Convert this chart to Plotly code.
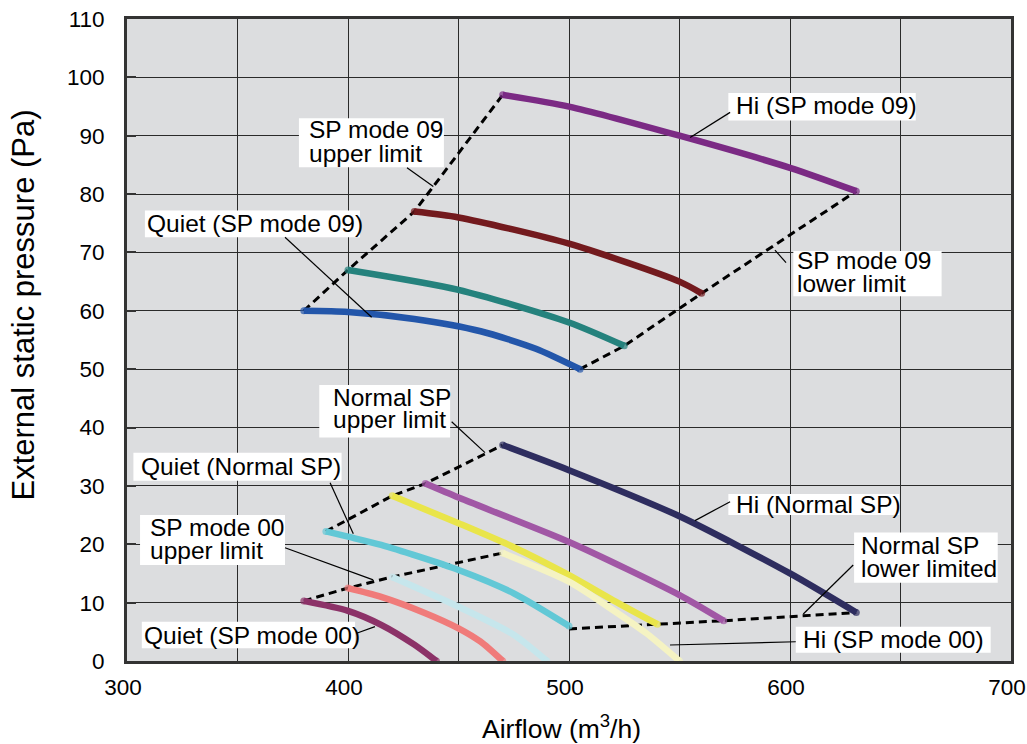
import plotly.graph_objects as go

# ---------------- data ----------------
# SP mode 09 fan curves
hi_sp09_x = [470, 500, 550, 600, 630]
hi_sp09_y = [97, 95, 90, 84.5, 80.5]
m3_sp09_x = [430, 450, 500, 550, 560]
m3_sp09_y = [77, 76, 71.5, 65, 63]
m2_sp09_x = [400, 450, 500, 525]
m2_sp09_y = [67, 63.6, 58, 54]
quiet_sp09_x = [380, 400, 430, 460, 485, 505]
quiet_sp09_y = [60, 59.8, 58.6, 56.5, 53.5, 50]
upper_sp09_x = [380, 400, 430, 470]
upper_sp09_y = [60, 67, 77, 97]
lower_sp09_x = [505, 525, 560, 630]
lower_sp09_y = [50, 54, 63, 80.5]

# Normal SP fan curves
hi_norm_x = [470, 500, 550, 600, 630]
hi_norm_y = [37, 32.7, 24.8, 15.0, 8.3]
m3_norm_x = [435, 450, 500, 550, 570]
m3_norm_y = [30.4, 28.0, 20.4, 11.3, 6.9]
m2_norm_x = [420, 450, 475, 500, 520, 540]
m2_norm_y = [28.3, 23.6, 19.5, 14.7, 10.4, 6.3]
quiet_norm_x = [390, 400, 415, 450, 475, 500]
quiet_norm_y = [22.2, 21.3, 19.9, 15.6, 11.6, 6.0]
upper_norm_x = [390, 420, 435, 470]
upper_norm_y = [22.2, 28.3, 30.4, 37]
lower_norm_x = [500, 540, 570, 630]
lower_norm_y = [5.5, 6.3, 6.9, 8.3]

# SP mode 00 fan curves
hi_sp00_x = [470, 500, 520, 535, 550]
hi_sp00_y = [18.5, 13.6, 8.7, 4.75, 0]
m3_sp00_x = [420, 450, 475, 490]
m3_sp00_y = [14.4, 9.3, 4.5, 0]
m2_sp00_x = [400, 415, 435, 450, 460, 470]
m2_sp00_y = [12.5, 11.0, 8.2, 5.6, 3.3, 0]
quiet_sp00_x = [380, 400, 415, 430, 440]
quiet_sp00_y = [10.3, 8.6, 6.2, 2.8, 0]
upper_sp00_x = [380, 400, 420, 470]
upper_sp00_y = [10.3, 12.5, 14.4, 18.5]

x_ticks = [300, 400, 500, 600, 700]
y_ticks = [0, 10, 20, 30, 40, 50, 60, 70, 80, 90, 100, 110]

FONT = "Liberation Sans, Arial, Helvetica, sans-serif"

fig = go.Figure()

# dashed limit lines
for lx, ly in [(upper_sp09_x, upper_sp09_y), (lower_sp09_x, lower_sp09_y),
               (upper_norm_x, upper_norm_y), (lower_norm_x, lower_norm_y),
               (upper_sp00_x, upper_sp00_y)]:
    fig.add_trace(go.Scatter(x=lx, y=ly, mode="lines",
                             line=dict(color="black", width=3, dash="8px,5px"),
                             hoverinfo="skip", showlegend=False))

curves = [
    (hi_sp09_x, hi_sp09_y, "#7B2A84"),
    (m3_sp09_x, m3_sp09_y, "#731A1E"),
    (m2_sp09_x, m2_sp09_y, "#25827D"),
    (quiet_sp09_x, quiet_sp09_y, "#2356AA"),
    (hi_norm_x, hi_norm_y, "#2E2D5F"),
    (m3_norm_x, m3_norm_y, "#A157A5"),
    (m2_norm_x, m2_norm_y, "#E9E54A"),
    (hi_sp00_x, hi_sp00_y, "#F5F3C3"),
    (quiet_norm_x, quiet_norm_y, "#62C8D6"),
    (m3_sp00_x, m3_sp00_y, "#C6E6EC"),
    (m2_sp00_x, m2_sp00_y, "#F07B7A"),
    (quiet_sp00_x, quiet_sp00_y, "#8C3268"),
]
for cx, cy, col in curves:
    sizes = [7] + [0] * (len(cx) - 2) + [7]
    fig.add_trace(go.Scatter(x=cx, y=cy, mode="lines+markers",
                             line=dict(color=col, width=6.5, shape="spline", smoothing=0.7),
                             marker=dict(color=col, size=sizes, line=dict(width=0)),
                             hoverinfo="skip", showlegend=False))

# labels: box (x0, x1, y_bottom, y_top), lines [(text, x, y)], leader (x0, y0, x1, y1)
labels = [
    ((377.8, 443.4, 84.6, 93.0), [("SP mode 09", 381.5, 91.0), ("upper limit", 381.5, 86.9)],
     (426.7, 84.5, 438.6, 81.3)),
    ((572.1, 656.9, 92.6, 97.3), [("Hi (SP mode 09)", 574.6, 95.1)],
     (572.9, 94.0, 554.8, 89.7)),
    ((601.5, 668.6, 62.5, 70.25), [("SP mode 09", 602.4, 68.6), ("lower limit", 602.4, 64.7)],
     (598.2, 68.25, 593.2, 70.4)),
    ((308.1, 405.4, 72.6, 77.2), [("Quiet (SP mode 09)", 308.3, 75.0)],
     (371.5, 72.6, 410.7, 58.9)),
    ((387.0, 446.2, 38.3, 47.3), [("Normal SP", 392.2, 45.2), ("upper limit", 392.2, 41.3)],
     (446.9, 41.0, 462.0, 35.7)),
    ((302.9, 397.1, 30.9, 35.7), [("Quiet (Normal SP)", 305.5, 33.4)],
     (391.9, 30.55, 402.4, 21.8)),
    ((305.9, 371.5, 16.45, 25.0), [("SP mode 00", 309.7, 22.9), ("upper limit", 309.7, 18.9)],
     (371.5, 19.4, 411.4, 13.9)),
    ((306.7, 403.2, 2.18, 6.73), [("Quiet (SP mode 00)", 306.9, 4.45)],
     (403.9, 4.75, 412.2, 5.88)),
    ((572.1, 649.5, 25.0, 28.6), [("Hi (Normal SP)", 574.6, 26.8)],
     (572.9, 27.3, 557.0, 24.05)),
    ((629.0, 694.0, 13.4, 22.0), [("Normal SP", 631.3, 19.8), ("lower limited", 631.3, 15.8)],
     (628.6, 16.45, 606.0, 8.05)),
    ((602.6, 690.8, 1.42, 5.88), [("Hi (SP mode 00)", 604.9, 3.65)],
     (602.6, 3.3, 545.7, 2.74)),
]

shapes = []
annotations = []
for box, lines, lead in labels:
    shapes.append(dict(type="rect", xref="x", yref="y", x0=box[0], x1=box[1], y0=box[2], y1=box[3],
                       fillcolor="white", line=dict(width=0), layer="above"))
    shapes.append(dict(type="line", xref="x", yref="y", x0=lead[0], y0=lead[1], x1=lead[2], y1=lead[3],
                       line=dict(color="black", width=1.2), layer="above"))
    for t, tx, ty in lines:
        annotations.append(dict(text=t, x=tx, y=ty, xref="x", yref="y", showarrow=False,
                                xanchor="left", yanchor="middle",
                                font=dict(family=FONT, size=24.5, color="black")))

# axis titles
annotations.append(dict(text="Airflow (m<sup>3</sup>/h)", xref="paper", yref="paper",
                        x=0.4917, y=-0.103, xanchor="center", yanchor="middle", showarrow=False,
                        font=dict(family=FONT, size=26.5, color="black")))
annotations.append(dict(text="External static pressure (Pa)", xref="paper", yref="paper",
                        x=-0.1182, y=0.5545, xanchor="center", yanchor="middle", showarrow=False,
                        textangle=-90, font=dict(family=FONT, size=31, color="black")))

fig.update_layout(
    width=1027, height=744,
    margin=dict(l=127, r=16, t=19, b=83),
    paper_bgcolor="white",
    plot_bgcolor="#DCDDDF",
    shapes=shapes,
    annotations=annotations,
    showlegend=False,
    hovermode=False,
    font=dict(family=FONT, color="black"),
)
fig.update_xaxes(
    range=[300, 700], tickvals=x_ticks, ticktext=[str(v) for v in x_ticks],
    showgrid=True, gridcolor="#2a2a2a", gridwidth=1,
    minor=dict(dtick=50, tick0=300, showgrid=True, gridcolor="#2a2a2a", gridwidth=1),
    showline=True, linecolor="#333333", linewidth=3, mirror=True,
    ticks="", zeroline=False, automargin=False, ticklabeloverflow="allow",
    ticklabelshift=-4,
    tickfont=dict(family=FONT, size=22.5, color="black"), ticklabelstandoff=4,
)
fig.update_yaxes(
    range=[0, 110], tickvals=y_ticks, ticktext=[str(v) for v in y_ticks],
    showgrid=True, gridcolor="#2a2a2a", gridwidth=1,
    showline=True, linecolor="#333333", linewidth=3, mirror=True,
    ticks="inside", ticklen=9, tickcolor="#333333", tickwidth=2, zeroline=False,
    automargin=False, ticklabeloverflow="allow",
    tickfont=dict(family=FONT, size=22.5, color="black"), ticklabelstandoff=15,
)

# remove the page's default body margin so the 1027x744 figure fills the window exactly
fig.write_html("out.html",
               config={"displayModeBar": False},
               post_script="document.body.style.margin='0px';"
                           "document.documentElement.style.overflow='hidden';")
